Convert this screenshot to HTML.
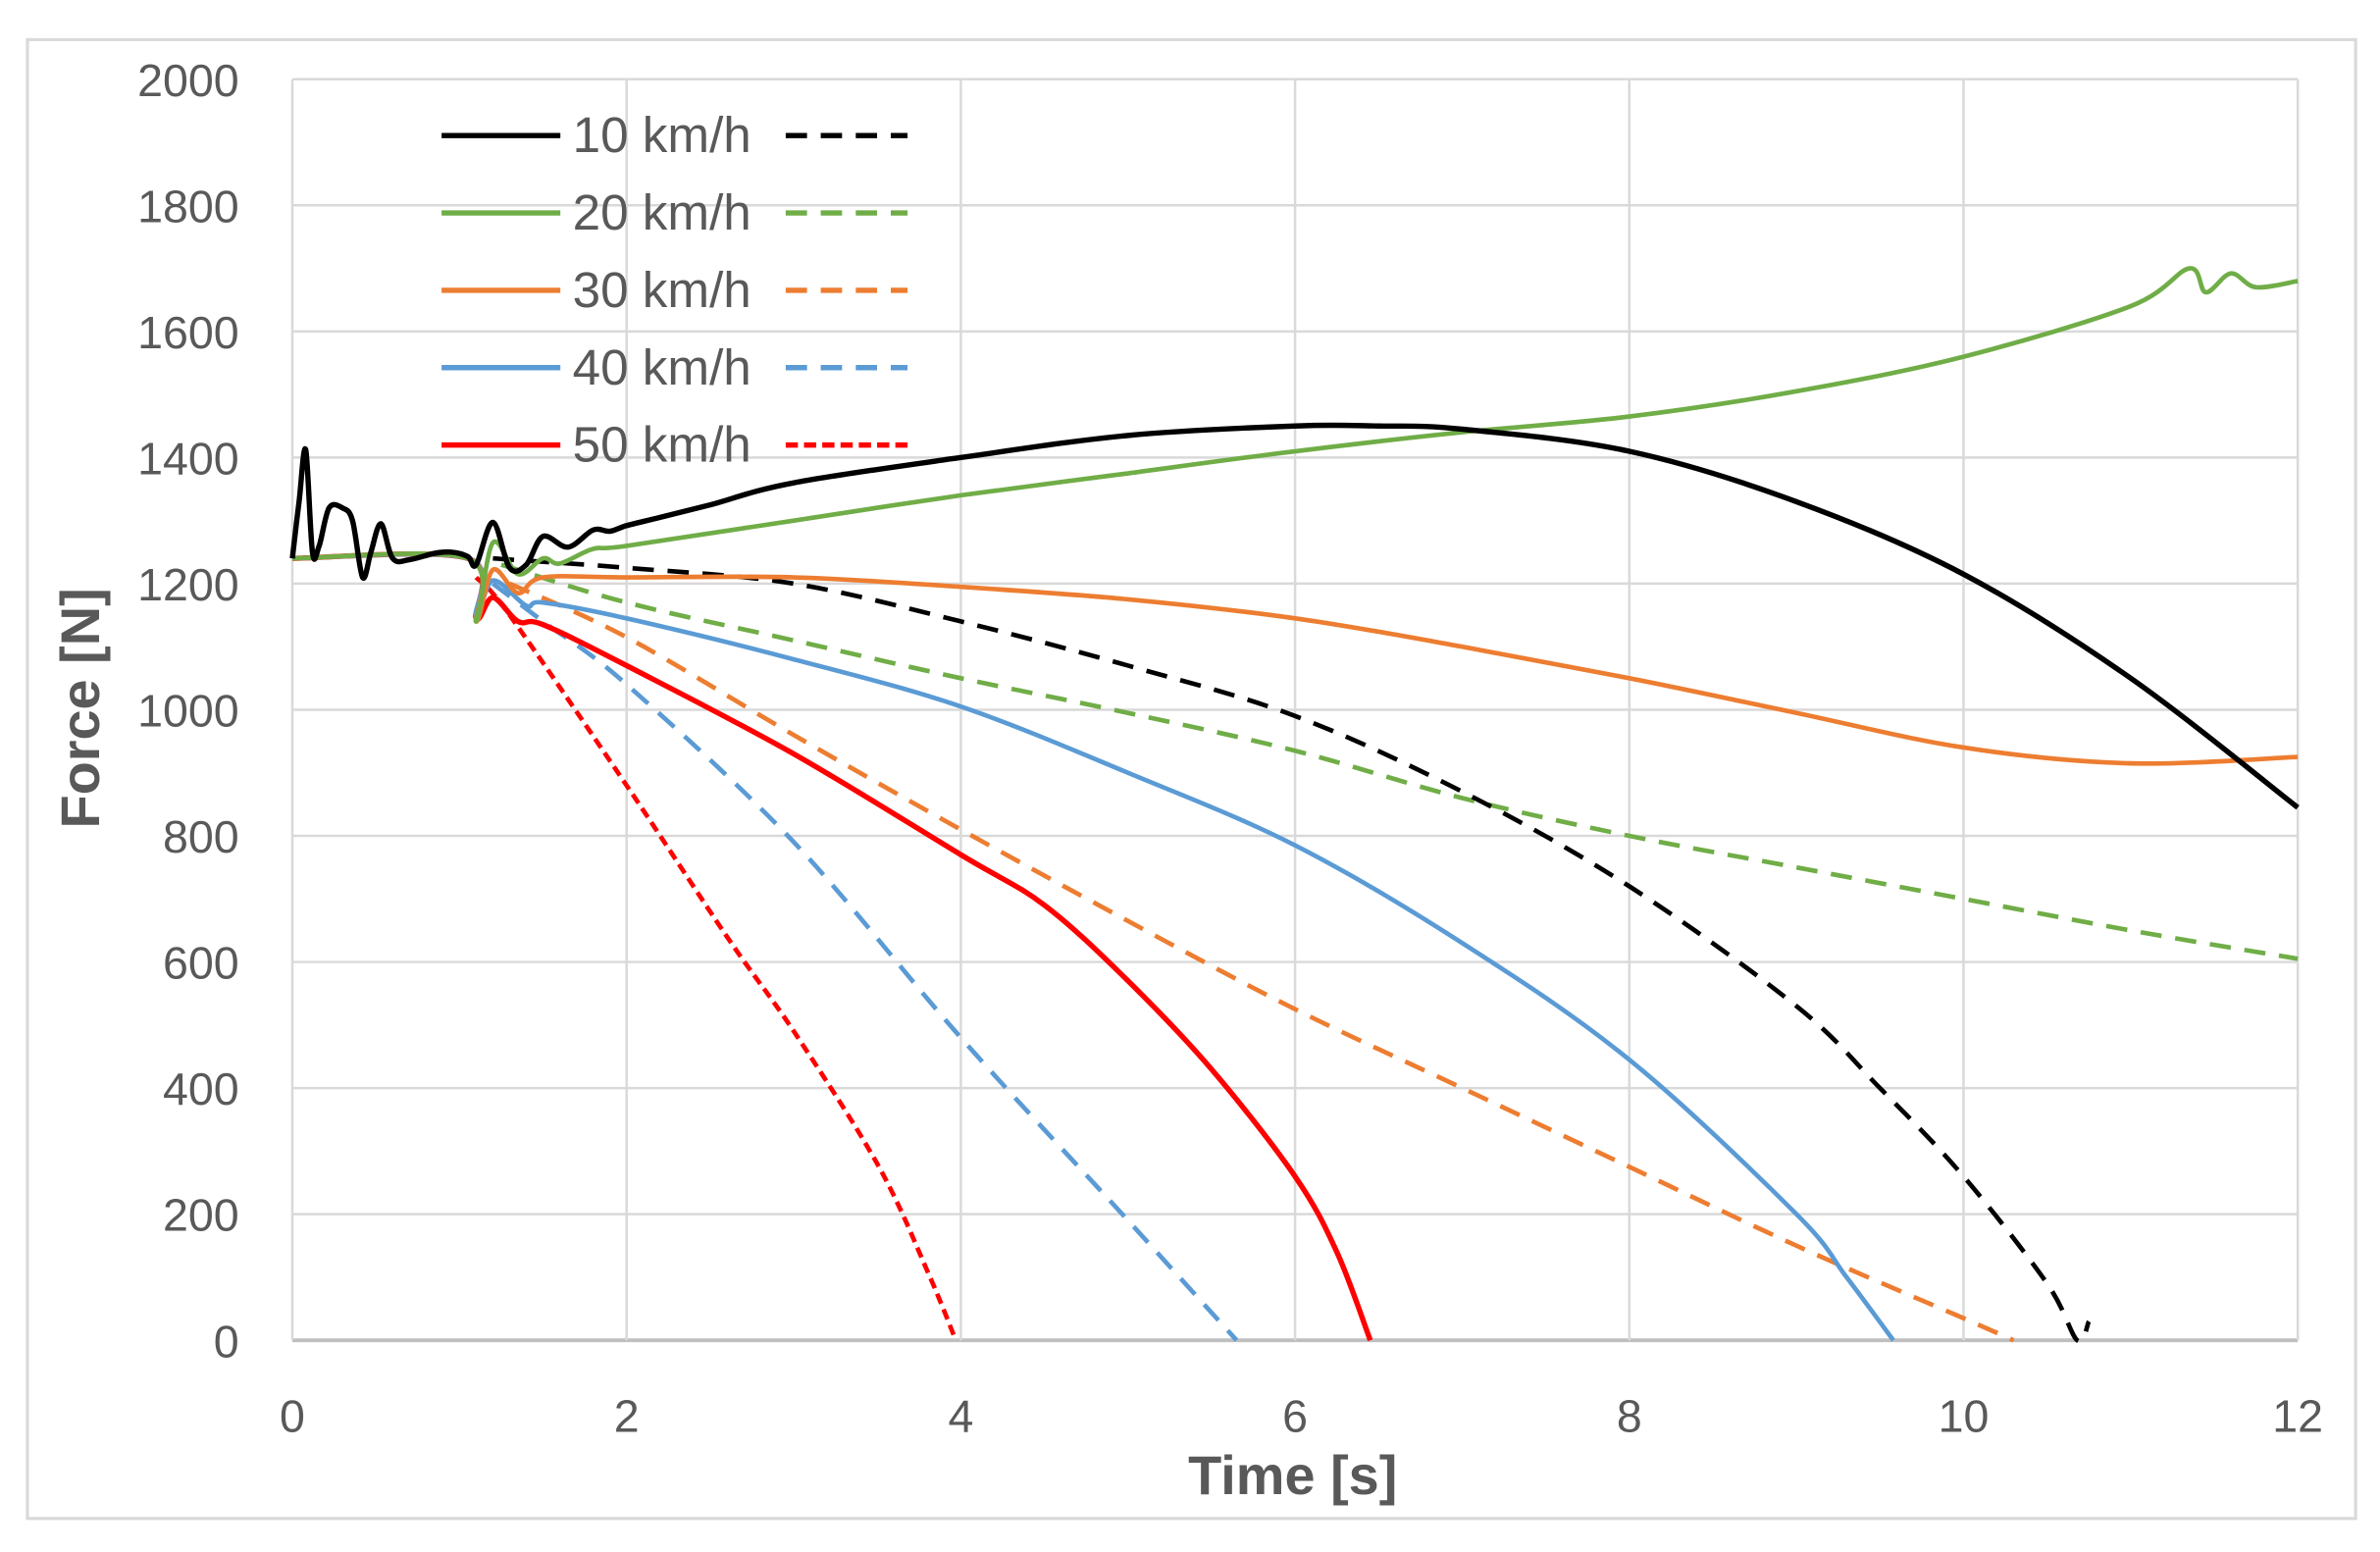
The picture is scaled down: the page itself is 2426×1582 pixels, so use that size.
<!DOCTYPE html>
<html><head><meta charset="utf-8"><style>
html,body{margin:0;padding:0;background:#fff}
svg{display:block}
text{font-family:"Liberation Sans",sans-serif;fill:#595959}
</style></head><body>
<svg id="chart" width="2426" height="1582" viewBox="0 0 1563 1019" preserveAspectRatio="none" xmlns="http://www.w3.org/2000/svg">
<rect x="18" y="26" width="1529" height="971" fill="#fff" stroke="#d9d9d9" stroke-width="2"/>
<g id="grid"></g><g id="series"></g><g id="axes"></g><g id="legend"></g>
<text x="849" y="981" text-anchor="middle" font-size="36" font-weight="bold">Time [s]</text>
<text transform="translate(65,465) rotate(-90)" text-anchor="middle" font-size="36" font-weight="bold">Force [N]</text>
</svg>
<script>
const xTicks=[0,2,4,6,8,10,12];
const yTicks=[0,200,400,600,800,1000,1200,1400,1600,1800,2000];
const speeds=["10 km/h","20 km/h","30 km/h","40 km/h","50 km/h"];
const colors=["#000000","#70ad47","#ed7d31","#5b9bd5","#ff0000"];
// solid series: [t, F]
const s10=[[0,1240],[0.04,1330],[0.08,1412],[0.12,1250],[0.16,1260],[0.22,1320],[0.3,1320],[0.36,1300],[0.42,1210],[0.47,1250],[0.53,1295],[0.6,1240],[0.7,1238],[0.85,1248],[0.95,1250],[1.05,1243],[1.1,1230],[1.2,1297],[1.3,1225],[1.4,1230],[1.5,1275],[1.65,1258],[1.8,1285],[1.9,1283],[2,1292],[2.2,1305],[2.5,1325],[3,1360],[4,1400],[5,1435],[6,1450],[6.5,1450],[7,1445],[8,1410],[9,1330],[10,1215],[11,1050],[12,845]];
const s20=[[0,1240],[1.05,1240],[1.1,1140],[1.2,1265],[1.35,1215],[1.5,1240],[1.6,1232],[1.8,1255],[2,1260],[3,1300],[4,1340],[5,1375],[6,1410],[7,1440],[8,1465],[9,1505],[10,1560],[11,1640],[11.35,1700],[11.45,1662],[11.6,1692],[11.75,1670],[12,1680]];
const s30=[[0,1240],[1.05,1240],[1.1,1140],[1.2,1222],[1.35,1185],[1.5,1210],[2,1210],[3,1210],[4,1195],[5,1175],[6,1145],[7,1100],[8,1050],[9,995],[10,940],[11,915],[12,925]];
const s40=[[0,1240],[1.05,1240],[1.1,1150],[1.2,1205],[1.4,1165],[1.5,1170],[2,1145],[3,1080],[4,1005],[5,900],[6,785],[7,630],[8,445],[9,200],[9.3,100],[9.58,0]];
const s50=[[0,1240],[1.05,1240],[1.1,1145],[1.2,1178],[1.35,1140],[1.5,1135],[2,1070],[3,930],[4,770],[4.5,690],[5,570],[5.5,430],[6,260],[6.25,140],[6.45,0]];
// dashed series
const d10=[[1.2,1240],[2,1225],[3,1200],[4,1140],[5,1070],[6,990],[7,870],[8,720],[9,530],[9.5,400],[10,260],[10.5,90],[10.68,0],[10.75,30]];
const d20=[[1.25,1230],[2,1170],[3,1110],[4,1050],[5,995],[6,935],[7,860],[8,800],[9,750],[10,700],[11,650],[12,605]];
const d30=[[1.3,1200],[2,1115],[3,960],[4,810],[5,665],[6,525],[7,400],[8,275],[9,150],[10,35],[10.3,0]];
const d40=[[1.2,1200],[1.5,1140],[2,1040],[3,790],[4,480],[5,190],[5.65,0]];
const d50=[[1.1,1210],[1.3,1150],[2,880],[2.6,640],[3,490],[3.5,280],[3.8,110],[3.97,0]];

const NS="http://www.w3.org/2000/svg";
const X0=192,X1=1509,Y0=880,Y1=52;
const xs=t=>X0+(t/12)*(X1-X0);
const ys=v=>Y0-(v/2000)*(Y0-Y1);
function mk(tag,attrs,parent){const e=document.createElementNS(NS,tag);for(const k in attrs)e.setAttribute(k,attrs[k]);parent.appendChild(e);return e;}
const grid=document.getElementById('grid'),axes=document.getElementById('axes'),ser=document.getElementById('series'),leg=document.getElementById('legend');
yTicks.forEach(v=>{
  const l=mk('line',{x1:X0,x2:X1,y1:ys(v),y2:ys(v),stroke:v===0?'#bfbfbf':'#d9d9d9','stroke-width':v===0?2.5:1.6},grid);
  
  
  const t=mk('text',{x:157,y:ys(v)+11,'text-anchor':'end','font-size':30},axes);
  t.textContent=v;
  
  
});
xTicks.forEach(v=>{
  const l=mk('line',{x1:xs(v),x2:xs(v),y1:Y1,y2:Y0,stroke:'#d9d9d9','stroke-width':1.6},grid);
  
  
  const t=mk('text',{x:xs(v),y:940,'text-anchor':'middle','font-size':30},axes);
  t.textContent=v;
  
  
});
const solids=[s10,s20,s30,s40,s50],dashes=[d10,d20,d30,d40,d50];
const dashPat=["14 9","14 9","14 9","14 9","7 4"];
function pathOf(arr){
  const P=arr.map(p=>[xs(p[0]),ys(p[1])]);
  let d='M'+P[0][0].toFixed(1)+','+P[0][1].toFixed(1);
  for(let i=0;i<P.length-1;i++){
    const p0=P[Math.max(0,i-1)],p1=P[i],p2=P[i+1],p3=P[Math.min(P.length-1,i+2)];
    const c1=[p1[0]+(p2[0]-p0[0])/6,p1[1]+(p2[1]-p0[1])/6];
    const c2=[p2[0]-(p3[0]-p1[0])/6,p2[1]-(p3[1]-p1[1])/6];
    d+=' C'+c1[0].toFixed(1)+','+c1[1].toFixed(1)+' '+c2[0].toFixed(1)+','+c2[1].toFixed(1)+' '+p2[0].toFixed(1)+','+p2[1].toFixed(1);
  }
  return d;
}
for(let i=4;i>=0;i--){
  const d=mk('path',{d:pathOf(dashes[i]),fill:'none',stroke:colors[i],'stroke-width':3,'stroke-dasharray':dashPat[i]},ser);
  
  
}
for(let i=4;i>=0;i--){
  const s=mk('path',{d:pathOf(solids[i]),fill:'none',stroke:colors[i],'stroke-width':i===0||i===4?3.5:3,'stroke-linejoin':'round'},ser);
  
  
}
speeds.forEach((s,i)=>{
  const y=89+i*50.8;
  const a=mk('line',{x1:290,x2:368,y1:y,y2:y,stroke:colors[i],'stroke-width':3.5},leg);
  
  
  const t=mk('text',{x:376,y:y+11,'font-size':33},leg);
  t.textContent=s;
  
  
  const b=mk('line',{x1:516,x2:596,y1:y,y2:y,stroke:colors[i],'stroke-width':3.5,'stroke-dasharray':i===4?'8 4':'14 9'},leg);
  
  
});
</script>
</body></html>
